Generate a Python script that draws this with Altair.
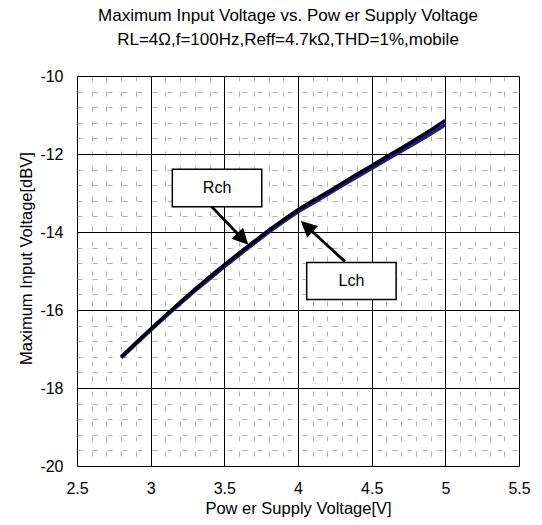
import math
import altair as alt
import pandas as pd

# ---------------- data ----------------
supply_v = [2.8, 2.9, 3.0, 3.1, 3.2, 3.3, 3.4, 3.5, 3.6, 3.7, 3.8, 3.9,
            4.0, 4.1, 4.2, 4.3, 4.4, 4.5, 4.6, 4.7, 4.8, 4.9, 5.0]
rch_dbv = [-17.20, -16.84, -16.49, -16.14, -15.80, -15.47, -15.15, -14.84,
           -14.54, -14.25, -13.96, -13.69, -13.43, -13.20, -12.98, -12.75,
           -12.52, -12.30, -12.07, -11.85, -11.62, -11.39, -11.14]
lch_dbv = [-17.23, -16.87, -16.52, -16.17, -15.84, -15.51, -15.20, -14.89,
           -14.59, -14.30, -14.01, -13.74, -13.48, -13.26, -13.04, -12.81,
           -12.59, -12.37, -12.15, -11.93, -11.71, -11.49, -11.25]

x_ticks = [2.5, 2.6, 2.7, 2.8, 2.9, 3.0, 3.1, 3.2, 3.3, 3.4, 3.5, 3.6, 3.7,
           3.8, 3.9, 4.0, 4.1, 4.2, 4.3, 4.4, 4.5, 4.6, 4.7, 4.8, 4.9, 5.0,
           5.1, 5.2, 5.3, 5.4, 5.5]
y_ticks = [-20.0, -19.6, -19.2, -18.8, -18.4, -18.0, -17.6, -17.2, -16.8,
           -16.4, -16.0, -15.6, -15.2, -14.8, -14.4, -14.0, -13.6, -13.2,
           -12.8, -12.4, -12.0, -11.6, -11.2, -10.8, -10.4, -10.0]

label_names = ["Rch", "Lch"]
box_x1 = [3.147, 4.059]
box_x2 = [3.754, 4.666]
box_y1 = [-12.39, -14.78]
box_y2 = [-13.35, -15.73]
arrow_tail_x = [3.414, 4.319]
arrow_tail_y = [-13.35, -14.76]
arrow_tip_x = [3.663, 4.019]
arrow_tip_y = [-14.33, -13.72]

title_lines = ["Maximum Input Voltage vs. Pow er Supply Voltage",
               "RL=4\u03a9,f=100Hz,Reff=4.7k\u03a9,THD=1%,mobile"]

# ---------------- layout ----------------
W, H = 442, 390
XDOM = [2.5, 5.5]
YDOM = [-20, -10]
FONT = "Liberation Sans"
px_x = W / (XDOM[1] - XDOM[0])
px_y = H / (YDOM[1] - YDOM[0])
HEAD = 16.0  # arrow head length in px

curves = pd.DataFrame({"v": supply_v * 2,
                       "db": rch_dbv + lch_dbv,
                       "ch": ["Rch"] * len(supply_v) + ["Lch"] * len(supply_v)})

ann_rows = []
for i, n in enumerate(label_names):
    dxp = (arrow_tip_x[i] - arrow_tail_x[i]) * px_x
    dyp = -(arrow_tip_y[i] - arrow_tail_y[i]) * px_y  # screen y down
    L = math.hypot(dxp, dyp)
    ang = math.degrees(math.atan2(dxp, -dyp)) % 360
    f = max(0.0, (L - HEAD * 0.6) / L)
    ann_rows.append({
        "name": n,
        "bx1": box_x1[i], "bx2": box_x2[i], "by1": box_y1[i], "by2": box_y2[i],
        "cx": (box_x1[i] + box_x2[i]) / 2, "cy": (box_y1[i] + box_y2[i]) / 2,
        "tx": arrow_tail_x[i], "ty": arrow_tail_y[i],
        "ex": arrow_tail_x[i] + (arrow_tip_x[i] - arrow_tail_x[i]) * f,
        "ey": arrow_tail_y[i] + (arrow_tip_y[i] - arrow_tail_y[i]) * f,
        "hx": arrow_tip_x[i], "hy": arrow_tip_y[i], "angle": ang,
    })
ann = pd.DataFrame(ann_rows)

xmaj = "abs(datum.value*2 - round(datum.value*2)) < 0.01"
ymaj = "abs(datum.value/2 - round(datum.value/2)) < 0.01"

x_axis = alt.Axis(
    values=x_ticks, tickCount=500, title="Pow er Supply Voltage[V]",
    labelExpr=f"{xmaj} ? '' + datum.value : ''",
    ticks=False, tickSize=0, domain=False, labelPadding=14,
    labelFont=FONT, labelFontSize=16, labelColor="black", labelFlush=False,
    titleFont=FONT, titleFontSize=16.5, titleFontWeight="normal", titleColor="black",
    titleY=47, titleBaseline="alphabetic",
    grid=True,
    gridColor={"condition": {"test": xmaj, "value": "black"}, "value": "#b0b0b0"},
    gridDash={"condition": {"test": xmaj, "value": []}, "value": [5, 10]},
    gridWidth=1, labelOverlap=False,
)
y_axis = alt.Axis(
    values=y_ticks, tickCount=500, title="Maximum Input Voltage[dBV]",
    labelExpr=f"{ymaj} ? '' + datum.value : ''",
    ticks=False, tickSize=0, domain=False, labelPadding=14,
    labelFont=FONT, labelFontSize=16, labelColor="black", labelFlush=False,
    titleFont=FONT, titleFontSize=16.5, titleFontWeight="normal", titleColor="black",
    titleX=-46, titleY=182, titleAngle=-90, titleAlign="center",
    titleBaseline="alphabetic",
    grid=True,
    gridColor={"condition": {"test": ymaj, "value": "black"}, "value": "#b0b0b0"},
    gridDash={"condition": {"test": ymaj, "value": []}, "value": [5, 10]},
    gridWidth=1, labelOverlap=False,
)

xs = alt.Scale(domain=XDOM, nice=False, zero=False)
ys = alt.Scale(domain=YDOM, nice=False, zero=False)

base = alt.Chart(curves)
blue = base.transform_filter("datum.ch == 'Lch'").mark_line(
    color="#1a1a99", strokeWidth=3.5).encode(
    x=alt.X("v:Q", scale=xs, axis=x_axis),
    y=alt.Y("db:Q", scale=ys, axis=y_axis),
)
black = base.transform_filter("datum.ch == 'Rch'").mark_line(
    color="black", strokeWidth=3.5).encode(x="v:Q", y="db:Q")

abase = alt.Chart(ann)
shafts = abase.mark_rule(color="black", strokeWidth=2.8).encode(
    x="tx:Q", y="ty:Q", x2="ex:Q", y2="ey:Q")
heads = abase.mark_point(
    shape="M0,0L-0.5,1L0.5,1Z", filled=True, color="black", opacity=1,
    size=(2 * HEAD) ** 2, strokeWidth=0).encode(
    x="hx:Q", y="hy:Q", angle=alt.Angle("angle:Q", scale=None))
boxes = abase.mark_rect(fill="white", stroke="black", strokeWidth=1.5).encode(
    x="bx1:Q", x2="bx2:Q", y="by1:Q", y2="by2:Q")
texts = abase.mark_text(font=FONT, fontSize=16, color="black",
                        align="center", baseline="middle").encode(
    x="cx:Q", y="cy:Q", text="name:N")

chart = alt.layer(blue, black, shafts, heads, boxes, texts).properties(
    width=W, height=H,
    title=alt.TitleParams(text=title_lines, font=FONT, fontSize=17,
                          fontWeight="normal", color="black", lineHeight=24,
                          anchor="middle", dx=-10, offset=19),
    autosize=alt.AutoSizeParams(type="none"),
    padding={"left": 69, "top": 68, "right": 15, "bottom": 55},
).configure_view(stroke="black", strokeWidth=1.5).configure(background="white")

chart.save("out.html", embed_options={"renderer": "svg", "actions": False})
